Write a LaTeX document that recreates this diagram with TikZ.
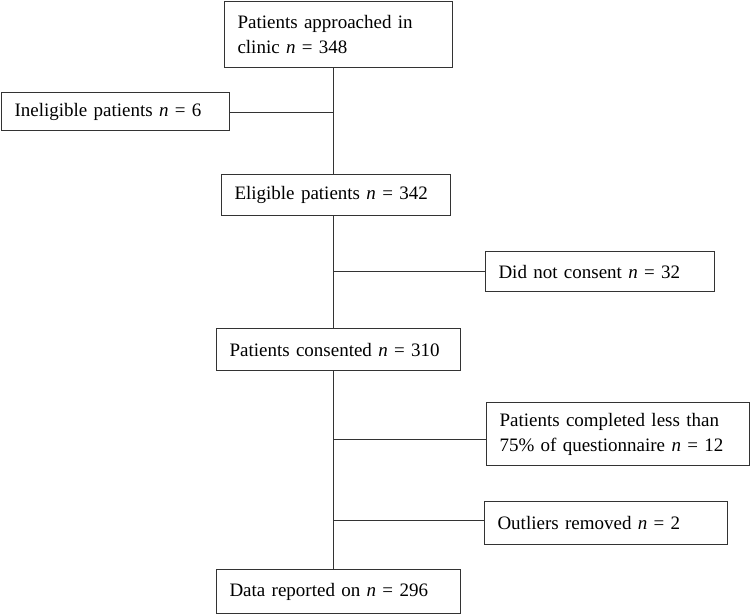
\documentclass[tikz,border=0pt]{standalone}
\usepackage{fontspec}
\setmainfont{Liberation Serif}
\usepackage{tikz}
\usetikzlibrary{positioning,calc}

\begin{document}
\begin{tikzpicture}[
  x=1pt,y=-1pt,
  box/.style={draw=black!80,line width=1pt,anchor=north west,align=left,font=\fontsize{19}{25}\selectfont,inner xsep=13pt,inner ysep=0pt},
  ln/.style={draw=black!80,line width=1pt}
]
\useasboundingbox (0,0) rectangle (750,614);
\node[box,text width=202pt,minimum height=66pt] (appr) at (224,1) {Patients approached in\\clinic \textit{n} = 348};
\node[box,text width=202pt,minimum height=38pt] (inel) at (1,92) {Ineligible patients \textit{n} = 6};
\node[box,text width=203pt,minimum height=41pt] (elig) at (221,174) {Eligible patients \textit{n} = 342};
\node[box,text width=203pt,minimum height=40pt] (dnc) at (485,251) {Did not consent \textit{n} = 32};
\node[box,text width=218pt,minimum height=42pt] (cons) at (216,328) {Patients consented \textit{n} = 310};
\node[box,text width=237pt,minimum height=63pt] (comp) at (486,402) {Patients completed less than\\75\% of questionnaire \textit{n} = 12};
\node[box,text width=217pt,minimum height=43pt] (outl) at (484,501) {Outliers removed \textit{n} = 2};
\node[box,text width=218pt,minimum height=44pt] (data) at (216,569) {Data reported on \textit{n} = 296};
% trunk and side branches
\coordinate (tr) at (333,0);
\coordinate (b1) at (333,112); \coordinate (b2) at (333,271);
\coordinate (b3) at (333,439); \coordinate (b4) at (333,520);
\draw[ln] (appr.south -| tr) -- (elig.north -| tr); \draw[ln] (elig.south -| tr) -- (cons.north -| tr); \draw[ln] (cons.south -| tr) -- (data.north -| tr);
\draw[ln] (b1) -- (b1 -| inel.east); \draw[ln] (b2) -- (b2 -| dnc.west);
\draw[ln] (b3) -- (b3 -| comp.west); \draw[ln] (b4) -- (b4 -| outl.west);
\end{tikzpicture}
\end{document}
